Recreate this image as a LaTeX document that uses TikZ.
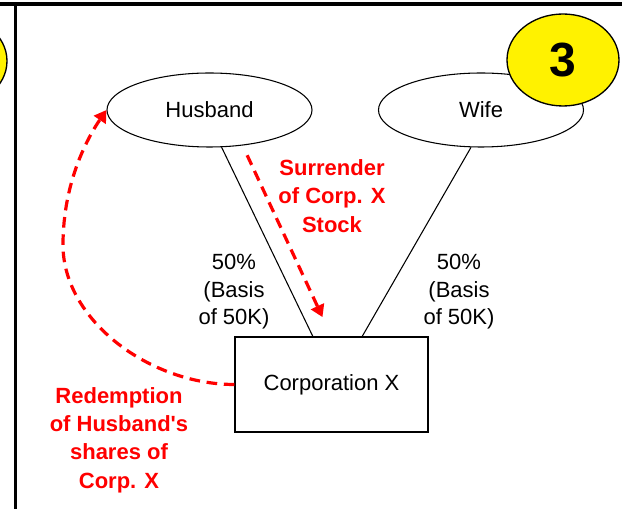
\documentclass[tikz,border=0pt]{standalone}
\usepackage{fontspec}
\setmainfont{Liberation Sans}
\usetikzlibrary{shapes.geometric,arrows.meta,calc}

\tikzset{
  person/.style={draw, ellipse, minimum width=153.75pt, minimum height=55.5pt, inner sep=0pt, line width=0.8pt, font=\fontsize{16.5}{20.6}\selectfont},
  corp/.style={draw, rectangle, minimum width=144.75pt, minimum height=71.25pt, line width=0.8pt, font=\fontsize{16.5}{20.6}\selectfont},
  share/.style={align=center, inner sep=0pt, font=\fontsize{16.5}{20.6}\selectfont},
  redlabel/.style={text=red, align=center, inner sep=0pt, font=\bfseries\fontsize{16.5}{21.2}\selectfont},
  redarrow/.style={red, line width=2.4pt, dash pattern=on 8pt off 5pt, -{Triangle[length=9pt,width=10.5pt]}},
  stepmark/.style={draw, ellipse, fill=yellow, minimum width=84pt, minimum height=69pt, inner sep=0pt, line width=1pt, font=\bfseries\fontsize{36}{36}\selectfont}
}

\begin{document}
\begin{tikzpicture}[x=0.75pt,y=-0.75pt]
\clip (0,0) rectangle (622,509);
% frame of the panel
\node[stepmark] (prevstep) at (-49,61) {};
\draw[line width=3pt] (0,4.5) -- (622,4.5);
\draw[line width=2.25pt] (15.3,4.5) -- (15.3,509);

\node[person] (husband) at (209.5,110) {Husband};
\node[person] (wife) at (481,110) {Wife};
\node[corp] (corpx) at (331.5,384.5) {Corporation X};
\node[stepmark] (step3) at (563,60) {3};

% ownership lines
\draw[line width=0.8pt] (husband.-72) -- ($(corpx.north west)!0.404!(corpx.north east)$);
\draw[line width=0.8pt] (wife.-105) -- ($(corpx.north west)!0.658!(corpx.north east)$);
\node[share] (husbandshare) at (234,292) {50\%\\(Basis\\of 50K)};
\node[share] (wifeshare) at (459,292) {50\%\\(Basis\\of 50K)};

% redemption
\coordinate (bend) at (63,245);
\draw[redarrow, shorten <=8pt, shorten >=16pt] (husband.-47) -- (corpx.north);
\draw[redarrow] (corpx.west) .. controls +(-85,0) and +(0,75) .. (bend)
  .. controls +(0,-65) and +(-17,25) .. (husband.west);
\node[redlabel] (surrender) at (332,196) {Surrender\\of Corp. X\\Stock};
\node[redlabel] (redemption) at (119,440) {Redemption\\of Husband\textquotesingle s\\shares of\\Corp. X};
\end{tikzpicture}
\end{document}
